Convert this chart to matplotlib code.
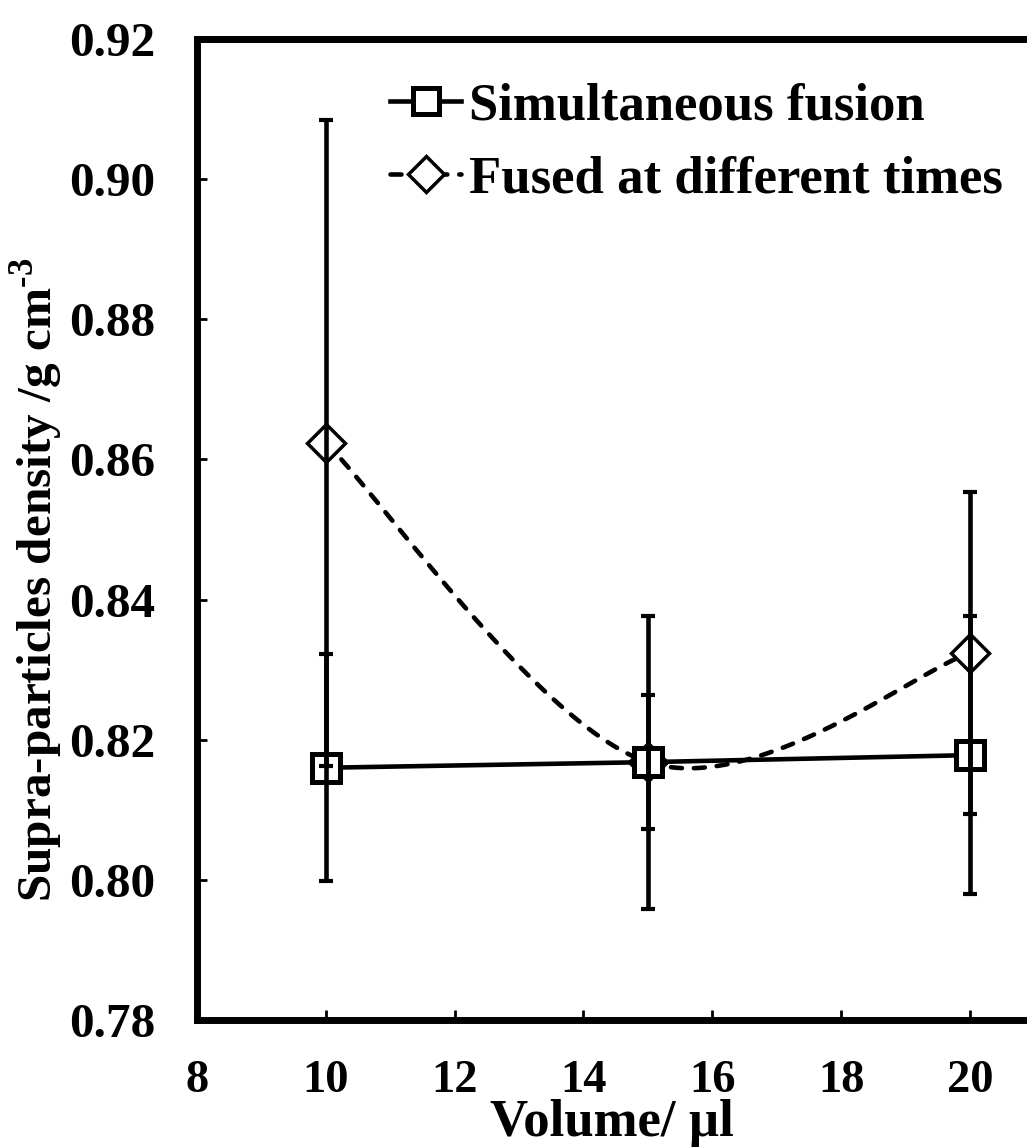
import numpy as np
import matplotlib
matplotlib.use("Agg")
import matplotlib.pyplot as plt
from matplotlib.lines import Line2D

plt.rcParams['font.family'] = ['Liberation Serif', 'DejaVu Serif']
plt.rcParams['font.weight'] = 'bold'
plt.rcParams['mathtext.fontset'] = 'custom'
plt.rcParams['mathtext.rm'] = 'Liberation Serif:bold'
plt.rcParams['mathtext.bf'] = 'Liberation Serif:bold'

# Data
volume = [10, 15, 20]
simultaneous = [0.8160, 0.8168, 0.8178]
simultaneous_err = [0.0162, 0.0096, 0.0198]
different_times = [0.8624, 0.8168, 0.8324]
different_times_err = [0.0461, 0.0209, 0.0230]

xticks = [8, 10, 12, 14, 16, 18, 20]
yticks = [0.78, 0.80, 0.82, 0.84, 0.86, 0.88, 0.90, 0.92]

W, H = 1027, 1147
fig = plt.figure(figsize=(W / 100, H / 100), dpi=100)
# axes extends past the right edge of the canvas
left, bottom, top = 197, 1020, 39
x_lo, x_hi = 8, 22
px_per_unit = 64.4
right = left + (x_hi - x_lo) * px_per_unit
ax = fig.add_axes([left / W, (H - bottom) / H, (right - left) / W, (bottom - top) / H])


def smooth_curve(x, y, n=60):
    """Bezier smoothing through points (spreadsheet-style smoothed line)."""
    pts = np.column_stack([x, y]).astype(float)
    verts = [pts[0]]
    m = len(pts)
    for i in range(m - 1):
        p0 = pts[i - 1] if i > 0 else pts[i]
        p1 = pts[i]
        p2 = pts[i + 1]
        p3 = pts[i + 2] if i + 2 < m else pts[i + 1]
        c1 = p1 + (p2 - p0) / 6.0
        c2 = p2 - (p3 - p1) / 6.0
        t = np.linspace(0, 1, n)[1:, None]
        seg = ((1 - t) ** 3) * p1 + 3 * ((1 - t) ** 2) * t * c1 + 3 * (1 - t) * t ** 2 * c2 + t ** 3 * p2
        verts.extend(seg)
    verts = np.array(verts)
    return verts[:, 0], verts[:, 1]


lw = 3.3
dash = (0, (2.4, 2.6))
# smoothed dashed series
sx, sy = smooth_curve(volume, different_times)
ax.plot(sx, sy, color='black', lw=lw, ls=dash, dash_capstyle='round', zorder=2)
ax.plot(volume, different_times, ls='none', marker='D', ms=19, mfc='white',
        mec='black', mew=2.5, zorder=3)
ax.errorbar(volume, different_times, yerr=different_times_err, fmt='none',
            ecolor='black', elinewidth=3.3, capsize=4.8, capthick=3, zorder=5)

# solid series
ax.plot(volume, simultaneous, color='black', lw=lw, zorder=2)
ax.plot(volume, simultaneous, ls='none', marker='s', ms=20, mfc='white',
        mec='black', mew=3.6, zorder=4)
ax.errorbar(volume, simultaneous, yerr=simultaneous_err, fmt='none',
            ecolor='black', elinewidth=3.3, capsize=4.8, capthick=3, zorder=5)

ax.set_xlim(x_lo, x_hi)
ax.set_ylim(0.78, 0.92)
ax.set_xticks(xticks)
ax.set_yticks(yticks)
ax.set_yticklabels([f"{v:.2f}" for v in yticks])
ax.tick_params(direction='in', length=7, width=2)
ax.tick_params(axis='x', labelsize=33.5, pad=29)
ax.tick_params(axis='y', labelsize=35.5, pad=30)
for lbl in ax.get_xticklabels() + ax.get_yticklabels():
    lbl.set_fontweight('bold')
for s in ax.spines.values():
    s.set_linewidth(5)
    s.set_color('black')

ax.set_xlabel('Volume/ µl', fontsize=38, fontweight='bold', labelpad=0)
ax.xaxis.set_label_coords((612 - left) / (right - left), -(1136 - bottom) / (bottom - top))
ax.xaxis.label.set_va('baseline')
ax.set_ylabel('Supra-particles density /g cm$^{\\mathbf{\u20103}}$', fontsize=35.5,
              fontweight='bold')
ax.yaxis.set_label_coords(-(197 - 37) / (right - left), (bottom - 580) / (bottom - top))
ax.yaxis.label.set_va('center')

handles = [
    Line2D([], [], color='black', lw=lw, marker='s', ms=19, mfc='white', mec='black', mew=3.6),
    Line2D([], [], color='black', lw=lw, ls=dash, dash_capstyle='round', marker='D', ms=18,
           mfc='white', mec='black', mew=2.5),
]
leg = ax.legend(handles, ['Simultaneous fusion', 'Fused at different times'],
                loc='upper left',
                bbox_to_anchor=((390 - left) / (right - left), (bottom - 82) / (bottom - top)),
                frameon=False, handlelength=1.35, handletextpad=0.15,
                borderpad=0, borderaxespad=0, labelspacing=0.48,
                prop={'weight': 'bold', 'size': 38})

fig.savefig('out.png', dpi=100)
